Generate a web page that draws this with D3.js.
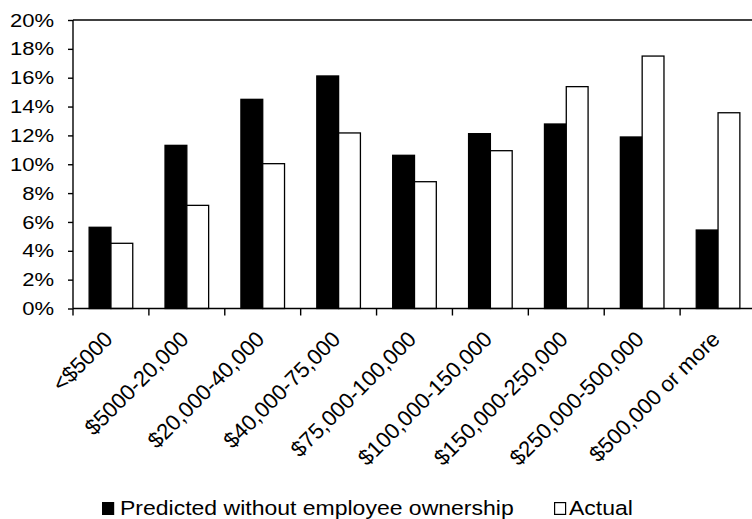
<!DOCTYPE html>
<html>
<head>
<meta charset="utf-8">
<script src="https://cdn.jsdelivr.net/npm/d3@7"></script>
<style>
  body { margin: 0; background: #fff; overflow: hidden; }
  text { font-family: "Liberation Sans", Arial, Helvetica, sans-serif; fill: #000; }
</style>
</head>
<body>
<div id="chart"></div>
<script>
const categories = [
  "<$5000",
  "$5000-20,000",
  "$20,000-40,000",
  "$40,000-75,000",
  "$75,000-100,000",
  "$100,000-150,000",
  "$150,000-250,000",
  "$250,000-500,000",
  "$500,000 or more",
];
const predicted = [0.0563, 0.1131, 0.145, 0.1612, 0.1062, 0.1212, 0.1279, 0.1189, 0.0544];
const actual = [0.0452, 0.0715, 0.1004, 0.1217, 0.0879, 0.1094, 0.1538, 0.175, 0.1357];
const seriesNames = ["Predicted without employee ownership", "Actual"];
const yTicks = [0, 0.02, 0.04, 0.06, 0.08, 0.1, 0.12, 0.14, 0.16, 0.18, 0.2];

const W = 752, H = 519;
const margin = { top: 20, left: 73 };
const plotH = 288.5;
const plotW = 683;
// the scanned labels are wider than they are tall, so stretch them a bit
const yFont = 19, yStretch = 1.16;
const xFont = 22;
const legendFont = 19.5, legendStretch = 1.18;

const svg = d3
  .select("#chart")
  .append("svg")
  .attr("width", W)
  .attr("height", H);

const g = svg.append("g").attr("transform", "translate(" + margin.left + "," + margin.top + ")");

const x = d3.scaleBand().domain(categories).range([0, plotW]).padding(0);
const xs = d3
  .scaleBand()
  .domain(seriesNames)
  .range([0, x.bandwidth()])
  .paddingInner(0)
  .paddingOuter(0.74);
const y = d3.scaleLinear().domain([0, 0.2]).range([plotH, 0]);

const rows = categories.map((c, i) => ({ cat: c, values: [predicted[i], actual[i]] }));

// bars
const grp = g
  .append("g")
  .selectAll("g")
  .data(rows)
  .enter()
  .append("g")
  .attr("transform", (d) => "translate(" + x(d.cat) + ",0)");

grp
  .selectAll("rect")
  .data((d) => d.values.map((v, j) => ({ key: seriesNames[j], v: v })))
  .enter()
  .append("rect")
  .attr("x", (d) => xs(d.key))
  .attr("y", (d) => y(d.v))
  .attr("width", xs.bandwidth())
  .attr("height", (d) => plotH - y(d.v))
  .attr("fill", (d) => (d.key === seriesNames[0] ? "#000" : "#fff"))
  .attr("stroke", "#000")
  .attr("stroke-width", 1.3);

// top frame line
g.append("line")
  .attr("x1", 0)
  .attr("x2", plotW)
  .attr("y1", y(0.2))
  .attr("y2", y(0.2))
  .attr("stroke", "#000")
  .attr("stroke-width", 1.4);

// y axis
const yAxis = g
  .append("g")
  .call(d3.axisLeft(y).tickValues(yTicks).tickFormat(d3.format(".0%")).tickSize(5).tickPadding(14));
yAxis.selectAll("path, line").attr("stroke", "#000").attr("stroke-width", 1.4);
yAxis.select(".domain").attr("d", "M0," + y(0.2) + "V" + y(0));
yAxis
  .selectAll("text")
  .style("font-size", yFont + "px")
  .attr("fill", "#000")
  .attr("x", -19 / yStretch)
  .attr("transform", "scale(" + yStretch + ",1)");

// x axis: baseline, ticks at category boundaries
g.append("line")
  .attr("x1", 0)
  .attr("x2", plotW)
  .attr("y1", plotH)
  .attr("y2", plotH)
  .attr("stroke", "#000")
  .attr("stroke-width", 1.4);

const bounds = categories.map((c) => x(c)).concat([plotW]);
g.append("g")
  .selectAll("line")
  .data(bounds)
  .enter()
  .append("line")
  .attr("x1", (d) => d)
  .attr("x2", (d) => d)
  .attr("y1", plotH)
  .attr("y2", plotH + 7)
  .attr("stroke", "#000")
  .attr("stroke-width", 1.4);

g.append("g")
  .selectAll("text")
  .data(categories)
  .enter()
  .append("text")
  .attr("transform", (d) => "translate(" + (x(d) + x.bandwidth() / 2 + 3) + "," + (plotH + 32) + ") rotate(-45)")
  .attr("text-anchor", "end")
  .style("font-size", xFont + "px")
  .text((d) => d);

// legend
const legend = svg.append("g").attr("transform", "translate(0,515)");
const legendX = [102, 554];
seriesNames.forEach((name, i) => {
  const lg = legend.append("g").attr("transform", "translate(" + legendX[i] + ",0)");
  lg.append("rect")
    .attr("x", 0.6)
    .attr("y", -12.4)
    .attr("width", 11)
    .attr("height", 11.8)
    .attr("fill", i === 0 ? "#000" : "#fff")
    .attr("stroke", "#000")
    .attr("stroke-width", 1.2);
  lg.append("text")
    .attr("transform", "translate(" + (i === 0 ? 18 : 15) + ",0) scale(" + legendStretch + ",1)")
    .style("font-size", legendFont + "px")
    .text(name);
});
</script>
</body>
</html>
